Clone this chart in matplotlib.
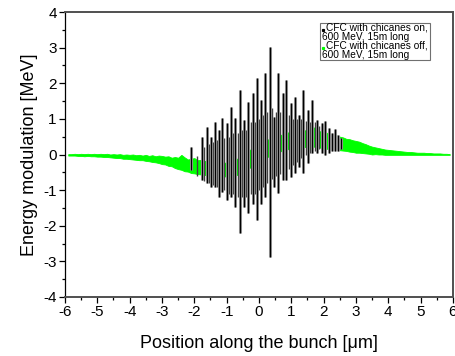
import numpy as np
import matplotlib
matplotlib.use("Agg")
import matplotlib.pyplot as plt
from matplotlib.patches import Rectangle
from matplotlib.ticker import MultipleLocator

plt.rcParams['font.family'] = ['Liberation Sans', 'DejaVu Sans']
plt.rcParams['axes.unicode_minus'] = False

# ---- data: chicanes off (green band, read at 0.1 um steps) ----
green_x = np.round(np.arange(-5.9, 5.95, 0.1), 2)
green_hi = [0.01, 0.01, 0.02, 0.01, 0.02, 0.01, 0.02, 0.01, 0.02, 0.01,
            0.02, 0.01, 0.02, 0.00, 0.01, 0.00, 0.01, -0.01, 0.00, -0.01,
            0.00, -0.02, -0.01, -0.03, -0.01, -0.04, -0.02, -0.05, -0.03, -0.04,
            -0.06, -0.05, -0.09, -0.07, -0.09, -0.01, -0.08, -0.14, -0.12, -0.10,
            -0.16, -0.15, -0.19, -0.17, -0.20, -0.22, -0.20, -0.23, -0.22, -0.24,
            -0.20, -0.19, -0.13, -0.08, -0.03, 0.04, 0.12, 0.18, 0.25, 0.32,
            0.35, 0.39, 0.43, 0.47, 0.50, 0.52, 0.56, 0.58, 0.62, 0.63,
            0.64, 0.66, 0.65, 0.68, 0.67, 0.70, 0.76, 0.66, 0.65, 0.63,
            0.61, 0.58, 0.55, 0.53, 0.50, 0.48, 0.44, 0.43, 0.40, 0.38,
            0.36, 0.32, 0.29, 0.25, 0.22, 0.20, 0.18, 0.16, 0.14, 0.13,
            0.12, 0.11, 0.10, 0.09, 0.08, 0.07, 0.07, 0.06, 0.05, 0.05,
            0.05, 0.04, 0.04, 0.03, 0.03, 0.03, 0.02, 0.02, 0.01]
green_lo = [-0.03, -0.03, -0.03, -0.04, -0.04, -0.05, -0.04, -0.05, -0.05, -0.06,
            -0.06, -0.07, -0.07, -0.08, -0.09, -0.10, -0.10, -0.12, -0.12, -0.13,
            -0.14, -0.15, -0.16, -0.16, -0.18, -0.19, -0.21, -0.22, -0.24, -0.27,
            -0.28, -0.32, -0.33, -0.38, -0.41, -0.43, -0.47, -0.48, -0.52, -0.53,
            -0.55, -0.56, -0.57, -0.58, -0.59, -0.60, -0.61, -0.60, -0.62, -0.61,
            -0.62, -0.60, -0.58, -0.53, -0.48, -0.43, -0.38, -0.32, -0.27, -0.22,
            -0.16, -0.10, -0.05, -0.01, 0.04, 0.07, 0.10, 0.13, 0.15, 0.17,
            0.18, 0.19, 0.20, 0.21, 0.22, 0.22, 0.22, 0.21, 0.19, 0.17,
            0.16, 0.15, 0.14, 0.13, 0.12, 0.11, 0.10, 0.08, 0.07, 0.05,
            0.05, 0.04, 0.03, 0.02, 0.00, 0.01, 0.00, 0.00, -0.01, -0.01,
            -0.01, -0.01, -0.01, -0.01, -0.01, -0.01, -0.01, -0.01, -0.01, -0.01,
            -0.01, -0.01, -0.01, -0.01, -0.01, -0.01, -0.01, -0.01, -0.01]

# ---- data: chicanes on (main black spikes: position, top, bottom) ----
spike_x = [-2.10, -1.77, -1.62, -1.48, -1.36, -1.23, -1.15, -1.00, -0.87, -0.74,
           -0.59, -0.45, -0.33, -0.19, -0.07, 0.06, 0.19, 0.34, 0.47, 0.60,
           0.73, 0.85, 0.99, 1.11, 1.24, 1.37, 1.51, 1.65, 1.78, 1.94,
           2.04, 2.15, 2.25, 2.35, 2.45, 2.55]
spike_top = [0.22, 0.50, 0.78, 0.50, 0.92, 0.69, 1.02, 0.88, 1.34, 1.02,
             1.81, 0.97, 1.48, 1.72, 2.14, 1.53, 2.28, 3.03, 1.06, 2.28,
             1.72, 2.09, 1.44, 1.62, 1.11, 1.81, 1.25, 1.53, 0.97, 0.88,
             0.95, 0.75, 0.60, 0.72, 0.55, 0.45]
spike_bottom = [-0.44, -0.72, -0.81, -0.90, -0.90, -1.18, -1.05, -1.28, -1.18, -1.47,
                -2.21, -1.47, -1.65, -1.38, -1.84, -1.38, -1.18, -2.87, -0.90, -1.09,
                -0.72, -0.72, -0.62, -0.53, -0.34, -0.53, -0.25, 0.03, 0.03, 0.03,
                0.00, 0.05, 0.10, 0.10, 0.10, 0.15]

# ---- data: chicanes on (shorter spikes between the main ones) ----
mid_x = [-1.93, -1.70, -1.55, -1.42, -1.30, -1.19, -1.08, -0.94, -0.80, -0.66,
         -0.52, -0.39, -0.26, -0.13, 0.00, 0.12, 0.26, 0.40, 0.53, 0.66,
         0.79, 0.92, 1.05, 1.18, 1.30, 1.44, 1.58, 1.72, 1.86]
mid_top = [-0.05, 0.20, 0.30, 0.35, 0.40, 0.40, 0.45, 0.50, 0.60, 0.60,
           0.70, 0.70, 0.90, 0.90, 1.00, 1.10, 1.20, 1.30, 1.20, 1.20,
           1.10, 1.10, 1.00, 1.00, 1.00, 0.95, 0.90, 0.90, 0.80]
mid_bottom = [-0.60, -0.75, -0.80, -0.85, -0.90, -1.00, -1.00, -1.10, -1.10, -1.20,
              -1.20, -1.20, -1.10, -1.10, -1.00, -0.90, -0.80, -0.70, -0.60, -0.55,
              -0.50, -0.40, -0.30, -0.20, -0.10, 0.00, 0.05, 0.10, 0.15]

x_ticks = [-6, -5, -4, -3, -2, -1, 0, 1, 2, 3, 4, 5, 6]
y_ticks = [-4, -3, -2, -1, 0, 1, 2, 3, 4]
legend_lines = ["CFC with chicanes on,", "600 MeV, 15m long",
                "CFC with chicanes off,", "600 MeV, 15m long"]
legend_colors = ['black', '#00ff00']

W, H = 456, 356
fig = plt.figure(figsize=(W / 100, H / 100), dpi=100)
ax = fig.add_axes([65 / W, 1 - 297 / H, 388 / W, 285 / H])

ax.vlines(mid_x, mid_bottom, mid_top, colors='#404040', linewidth=1.0)
ax.vlines(spike_x, spike_bottom, spike_top, colors='#a8a8a8', linewidth=2.2)
ax.vlines(spike_x, spike_bottom, spike_top, colors='black', linewidth=1.0)
ax.fill_between(green_x, green_lo, green_hi, color='#00ff00', linewidth=0.6,
                edgecolor='#00ff00')

ax.set_xlim(-6, 6)
ax.set_ylim(-4, 4)
ax.set_xticks(x_ticks)
ax.set_yticks(y_ticks)
ax.xaxis.set_minor_locator(MultipleLocator(0.5))
ax.yaxis.set_minor_locator(MultipleLocator(0.5))
ax.tick_params(which='major', direction='out', length=4, width=0.9,
               labelsize=11, pad=2)
ax.tick_params(which='minor', direction='out', length=2.2, width=0.9)
ax.tick_params(top=False, right=False)

ax.spines['left'].set_color('black')
ax.spines['left'].set_linewidth(0.9)
for s in ['bottom', 'top', 'right']:
    ax.spines[s].set_color('#505050')
    ax.spines[s].set_linewidth(1.4)

ax.set_xlabel('Position along the bunch [\u03bcm]', fontsize=13, labelpad=11)
ax.set_ylabel('Energy modulation [MeV]', fontsize=13, labelpad=4)

# legend box (Origin style)
fig.patches.append(Rectangle((320.5 / W, 1 - 59.5 / H), 110 / W, 37 / H,
                             transform=fig.transFigure, facecolor='white',
                             edgecolor='#707070', linewidth=0.8, zorder=5))
line_y = [27.5, 36.5, 45.5, 54.5]
line_x = [326.5, 322.5, 326.5, 322.5]
for lx, ly, txt in zip(line_x, line_y, legend_lines):
    fig.text(lx / W, 1 - ly / H, txt, fontsize=7.3, va='center', ha='left',
             zorder=6)
for ly, col in zip([line_y[0], line_y[2]], legend_colors):
    fig.lines.append(plt.Line2D([323.5 / W], [1 - (ly + 2.5) / H], marker='s',
                                markersize=1.3, color=col, linestyle='none',
                                transform=fig.transFigure, zorder=7))

fig.savefig('out.png', dpi=100)
